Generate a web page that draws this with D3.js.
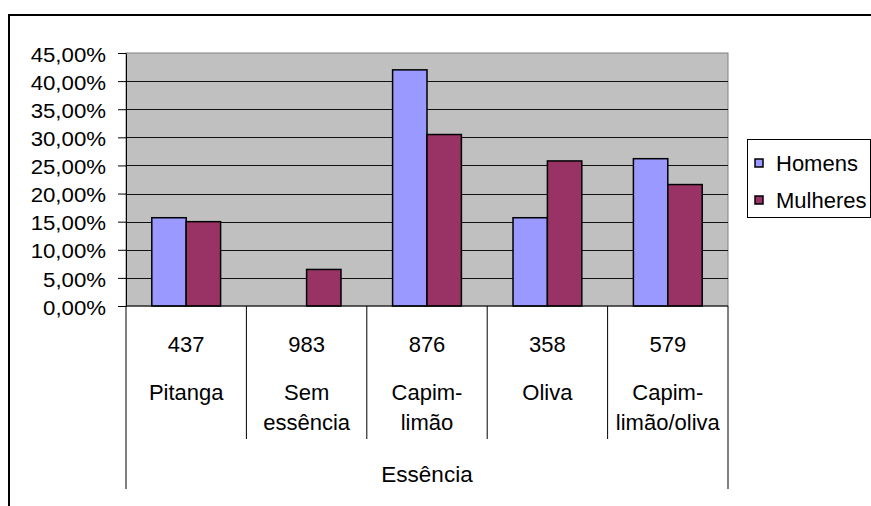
<!DOCTYPE html>
<html>
<head>
<meta charset="utf-8">
<script src="https://cdn.jsdelivr.net/npm/d3@7"></script>
<style>
  body { margin: 0; background: #fff; }
  svg { display: block; font-family: "Liberation Sans", Arial, sans-serif; }
</style>
</head>
<body>
<div id="graph"></div>
<script>
// Data
const codes = ["437", "983", "876", "358", "579"];
const names = [["Pitanga"], ["Sem", "essência"], ["Capim-", "limão"], ["Oliva"], ["Capim-", "limão/oliva"]];
const series = ["Homens", "Mulheres"];
const homens = [0.157, 0, 0.420, 0.157, 0.262];
const mulheres = [0.150, 0.065, 0.305, 0.258, 0.216];
const yTicks = [0, 0.05, 0.10, 0.15, 0.20, 0.25, 0.30, 0.35, 0.40, 0.45];
const axisTitle = "Essência";

const width = 871;
const height = 506;
const plotLeft = 126, plotRight = 728, plotTop = 53, plotBottom = 306;

const colors = { Homens: "#9999FF", Mulheres: "#993366" };

const ptBR = d3.formatLocale({ decimal: ",", thousands: ".", grouping: [3], currency: ["", ""] });
const fmt = ptBR.format(".2%");

const x = d3.scaleBand()
    .domain(codes)
    .range([plotLeft, plotRight]);

const xSub = d3.scaleBand()
    .domain(series)
    .range([0, x.bandwidth()])
    .paddingOuter(0.75);

const y = d3.scaleLinear()
    .domain([0, 0.45])
    .range([plotBottom, plotTop]);

const svg = d3.create("svg")
    .attr("width", width)
    .attr("height", height);

// outer chart frame (runs past the window on the right and bottom)
svg.append("rect")
    .attr("x", 9).attr("y", 15)
    .attr("width", 1000).attr("height", 1000)
    .attr("fill", "#fff")
    .attr("stroke", "#000")
    .attr("stroke-width", 2);

// plot area
svg.append("rect")
    .attr("x", plotLeft).attr("y", plotTop)
    .attr("width", plotRight - plotLeft).attr("height", plotBottom - plotTop)
    .attr("fill", "#C0C0C0")
    .attr("stroke", "#808080")
    .attr("stroke-width", 1);

// gridlines
svg.append("g")
    .selectAll("line")
    .data(yTicks.slice(1, -1))
    .join("line")
    .attr("x1", plotLeft).attr("x2", plotRight)
    .attr("y1", d => Math.round(y(d)) + 0.5).attr("y2", d => Math.round(y(d)) + 0.5)
    .attr("stroke", "#111")
    .attr("stroke-width", 1);

// y axis
const yAxis = d3.axisLeft(y)
    .tickValues(yTicks)
    .tickSize(8)
    .tickSizeOuter(0)
    .tickPadding(12)
    .tickFormat(fmt);

const gy = svg.append("g")
    .attr("transform", `translate(${plotLeft},0)`)
    .call(yAxis);
gy.select(".domain").attr("stroke", "#000");
gy.selectAll(".tick line").attr("stroke", "#000");
gy.selectAll(".tick text")
    .attr("fill", "#000")
    .attr("font-size", 19.5)
    .attr("font-family", "Liberation Sans, Arial, sans-serif")
    .attr("x", 0)
    .attr("dy", "0.42em")
    .attr("transform", "translate(-20,0) scale(1.14,1)");

// bars
const rows = codes.map((c, i) => ({ code: c, values: [
    { key: "Homens", value: homens[i] },
    { key: "Mulheres", value: mulheres[i] }
] }));

svg.append("g")
    .selectAll("g")
    .data(rows)
    .join("g")
    .attr("transform", d => `translate(${x(d.code)},0)`)
    .selectAll("rect")
    .data(d => d.values.filter(v => v.value > 0))
    .join("rect")
    .attr("x", d => xSub(d.key))
    .attr("y", d => y(d.value))
    .attr("width", xSub.bandwidth())
    .attr("height", d => y(0) - y(d.value))
    .attr("fill", d => colors[d.key])
    .attr("stroke", "#000")
    .attr("stroke-width", 1.5);

// bottom axis line
svg.append("line")
    .attr("x1", plotLeft).attr("x2", plotRight)
    .attr("y1", plotBottom).attr("y2", plotBottom)
    .attr("stroke", "#000");

// category dividers below axis
const bounds = codes.map(c => x(c)).concat([plotRight]);
svg.append("g")
    .selectAll("line")
    .data(bounds)
    .join("line")
    .attr("x1", d => d).attr("x2", d => d)
    .attr("y1", plotBottom)
    .attr("y2", (d, i) => (i === 0 || i === bounds.length - 1) ? 489 : 439)
    .attr("stroke", "#000")
    .attr("stroke-width", 1);

// category labels
const labels = svg.append("g")
    .attr("font-size", 22)
    .attr("fill", "#000")
    .attr("text-anchor", "middle");

labels.selectAll("text.code")
    .data(codes)
    .join("text")
    .attr("class", "code")
    .attr("x", d => x(d) + x.bandwidth() / 2)
    .attr("y", 352)
    .text(d => d);

codes.forEach((c, i) => {
    names[i].forEach((line, j) => {
        labels.append("text")
            .attr("x", x(c) + x.bandwidth() / 2)
            .attr("y", 400 + j * 30)
            .text(line);
    });
});

labels.append("text")
    .attr("x", (plotLeft + plotRight) / 2)
    .attr("y", 482)
    .attr("font-size", 22.5)
    .text(axisTitle);

// legend
const legend = svg.append("g");
legend.append("rect")
    .attr("x", 747.5).attr("y", 139.5)
    .attr("width", 123).attr("height", 78)
    .attr("fill", "#fff")
    .attr("stroke", "#000")
    .attr("stroke-width", 1);

const li = legend.selectAll("g")
    .data(series)
    .join("g")
    .attr("transform", (d, i) => `translate(755,${159 + i * 37})`);

li.append("rect")
    .attr("width", 8).attr("height", 8)
    .attr("fill", d => colors[d])
    .attr("stroke", "#000")
    .attr("stroke-width", 1.5);

li.append("text")
    .attr("x", 21)
    .attr("y", 4)
    .attr("dy", "0.36em")
    .attr("font-size", 22)
    .attr("fill", "#000")
    .text(d => d);

document.getElementById("graph").appendChild(svg.node());
</script>
</body>
</html>
